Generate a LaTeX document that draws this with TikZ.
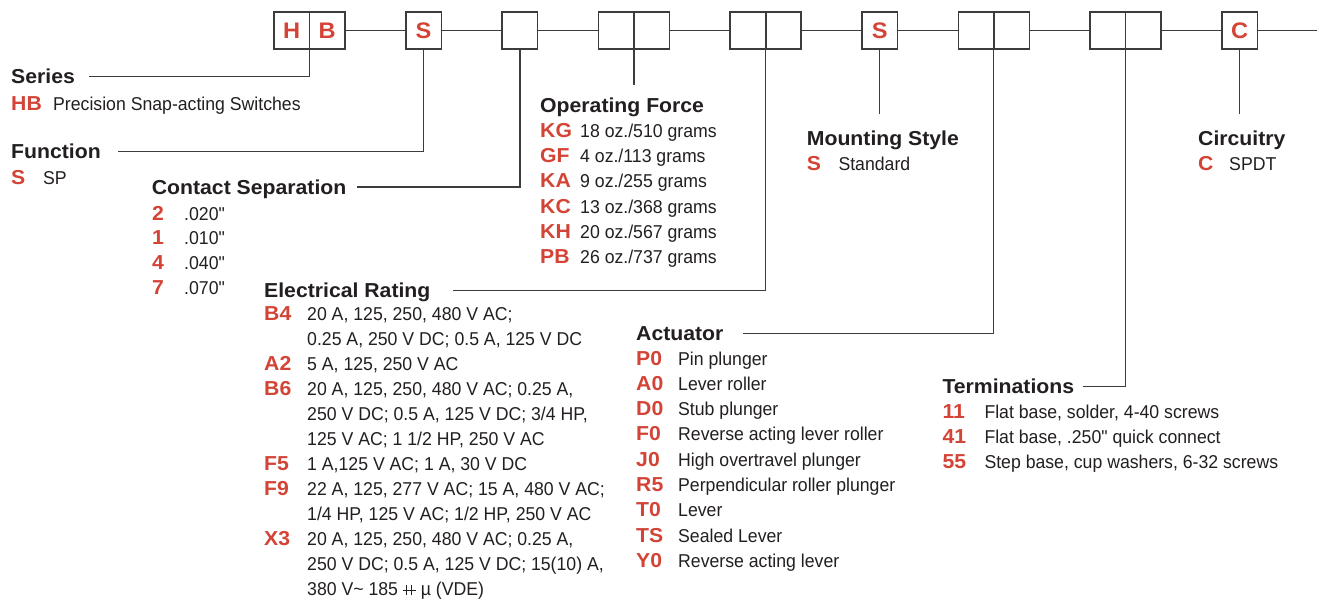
\documentclass[tikz,border=0pt]{standalone}
\usepackage{fontspec}
\setmainfont{Liberation Sans}
\newfontfamily\bodyfnt[FakeStretch=0.95]{Liberation Sans}
\newfontfamily\headfnt[FakeStretch=1.05]{Liberation Sans}
\usepackage{array}
\usetikzlibrary{positioning}

\definecolor{hwred}{RGB}{212,68,54}
\definecolor{ink}{RGB}{35,31,32}
\definecolor{rule}{RGB}{60,60,60}

% red option code in the first column of a list
\newcommand\codefnt{\color{hwred}\headfnt\bfseries\fontsize{20.2}{25}\selectfont}
\newcommand\partlist[2]{\begin{tabular}[t]{@{}>{\codefnt}w{l}{#1}@{}l@{}}#2\end{tabular}}
\newcommand\dblplus{\makebox[13pt][l]{\rule[4.6pt]{13pt}{0.9pt}\hspace{-9.6pt}\rule{0.9pt}{10pt}\hspace{4pt}\rule{0.9pt}{10pt}}}

\begin{document}
\begin{tikzpicture}
	[x=1pt,y=-1pt,
	every node/.style={text=ink},
	digit/.style={draw=rule,line width=1.6pt,minimum width=35.5pt,minimum height=36.5pt,
		inner sep=0pt,outer sep=0pt,text=hwred,font=\headfnt\bfseries\fontsize{22.5}{23}\selectfont},
	heading/.style={anchor=base west,inner sep=0pt,text height=14pt,text depth=0pt,
		font=\headfnt\bfseries\fontsize{20.2}{25}\selectfont},
	list/.style={anchor=base west,inner sep=0pt,font=\bodyfnt\fontsize{18.6}{#1}\selectfont},
	list/.default=25.3,
	leader/.style={draw=rule,line width=1.3pt}
	]
	\fill[white] (0,0) rectangle (1322,603);
	\useasboundingbox (0,0) rectangle (1322,603);

	% part number boxes
	\node[digit] (hb1) at (291.75,30.5) {H};
	\node[digit,right=0pt of hb1] (hb2) {B};
	\node[digit,right=60.8pt of hb2] (fn) {S};
	\node[digit,right=60.8pt of fn] (cs) {};
	\node[digit,right=60.8pt of cs] (of1) {};
	\node[digit,right=0pt of of1] (of2) {};
	\node[digit,right=60.8pt of of2] (er1) {};
	\node[digit,right=0pt of er1] (er2) {};
	\node[digit,right=60.8pt of er2] (ms) {S};
	\node[digit,right=60.8pt of ms] (ac1) {};
	\node[digit,right=0pt of ac1] (ac2) {};
	\node[digit,right=60.8pt of ac2] (tm1) {};
	\node[digit,right=0pt of tm1] (tm2) {};
	\node[digit,right=60.8pt of tm2] (ci) {C};
	\coordinate (tail) at (1317,30.5);
	\draw[leader] (hb2) -- (fn) (fn) -- (cs) (cs) -- (of1) (of2) -- (er1) (er2) -- (ms)
		(ms) -- (ac1) (ac2) -- (tm1) (tm2) -- (ci) (ci) -- (tail);

	% headings
	\node[heading] (series) at (11,83.3) {Series};
	\node[heading] (function) at (11,158.3) {Function};
	\node[heading] (contact) at (151.7,194) {Contact Separation};
	\node[heading] (electrical) at (264,297.3) {Electrical Rating};
	\node[heading] (opforce) at (540,112.3) {Operating Force};
	\node[heading] (mounting) at (806.7,145) {Mounting Style};
	\node[heading] (actuator) at (636,340.7) {Actuator};
	\node[heading] (termination) at (942.3,393.3) {Terminations};
	\node[heading] (circuitry) at (1198,145) {Circuitry};

	% option lists
	\node[list] (serieslist) at (11,110) {\partlist{42pt}{HB & Precision Snap-acting Switches}};
	\node[list] (functionlist) at (11,184) {\partlist{32pt}{S & SP}};
	\node[list=24.7] (contactlist) at (152,220) {\partlist{32pt}{
		2 & .020"\\
		1 & .010"\\
		4 & .040"\\
		7 & .070"}};
	\node[list=24.94] (electricallist) at (264,320.7) {\partlist{43pt}{
		B4 & 20 A, 125, 250, 480 V AC;\\
		   & 0.25 A, 250 V DC; 0.5 A, 125 V DC\\
		A2 & 5 A, 125, 250 V AC\\
		B6 & 20 A, 125, 250, 480 V AC; 0.25 A,\\
		   & 250 V DC; 0.5 A, 125 V DC; 3/4 HP,\\
		   & 125 V AC; 1 1/2 HP, 250 V AC\\
		F5 & 1 A,125 V AC; 1 A, 30 V DC\\
		F9 & 22 A, 125, 277 V AC; 15 A, 480 V AC;\\
		   & 1/4 HP, 125 V AC; 1/2 HP, 250 V AC\\
		X3 & 20 A, 125, 250, 480 V AC; 0.25 A,\\
		   & 250 V DC; 0.5 A, 125 V DC; 15(10) A,\\
		   & 380 V\textasciitilde{} 185 \dblplus{} µ (VDE)}};
	\node[list] (opforcelist) at (540,137.3) {\partlist{40pt}{
		KG & 18 oz./510 grams\\
		GF & 4 oz./113 grams\\
		KA & 9 oz./255 grams\\
		KC & 13 oz./368 grams\\
		KH & 20 oz./567 grams\\
		PB & 26 oz./737 grams}};
	\node[list] (mountinglist) at (806.7,170) {\partlist{31.6pt}{S & Standard}};
	\node[list] (actuatorlist) at (636,365) {\partlist{42pt}{
		P0 & Pin plunger\\
		A0 & Lever roller\\
		D0 & Stub plunger\\
		F0 & Reverse acting lever roller\\
		J0 & High overtravel plunger\\
		R5 & Perpendicular roller plunger\\
		T0 & Lever\\
		TS & Sealed Lever\\
		Y0 & Reverse acting lever}};
	\node[list=25] (terminationlist) at (942.3,418.3) {\partlist{42pt}{
		11 & Flat base, solder, 4-40 screws\\
		41 & Flat base, .250" quick connect\\
		55 & Step base, cup washers, 6-32 screws}};
	\node[list] (circuitrylist) at (1198,170) {\partlist{31pt}{C & SPDT}};

	% leaders from the boxes to the headings
	\draw[leader] (hb1.south east) |- ([xshift=14pt]series.east);
	\draw[leader] (fn.south) |- ([xshift=17pt]function.east);
	\draw[leader] (cs.south) |- ([xshift=10pt]contact.east);
	\draw[leader,shorten >=13pt] (of1.south east) -- (of1.south east |- opforce.north);
	\draw[leader] (er1.south east) |- ([xshift=22pt]electrical.east);
	\draw[leader,shorten >=17pt] (ms.south) -- (ms.south |- mounting.north);
	\draw[leader] (ac1.south east) |- ([xshift=19pt]actuator.east);
	\draw[leader] (tm1.south east) |- ([xshift=9pt]termination.east);
	\draw[leader,shorten >=17pt] (ci.south) -- (ci.south |- circuitry.north);
\end{tikzpicture}
\end{document}
